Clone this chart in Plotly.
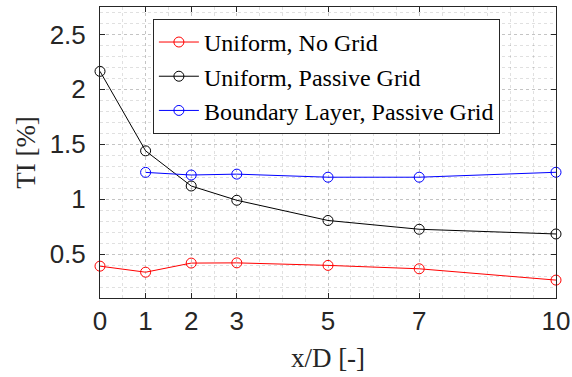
import plotly.graph_objects as go

x_all = [0, 1, 2, 3, 5, 7, 10]
x_bl = [1, 2, 3, 5, 7, 10]
ti_uniform_nogrid = [0.39, 0.335, 0.418, 0.42, 0.397, 0.366, 0.263]
ti_uniform_passive = [2.164, 1.44, 1.12, 0.99, 0.806, 0.726, 0.683]
ti_bl_passive = [1.244, 1.22, 1.228, 1.20, 1.20, 1.245]
x_ticks = [0, 1, 2, 3, 5, 7, 10]
y_ticks = [0.5, 1, 1.5, 2, 2.5]
y_tick_labels = ["0.5", "1", "1.5", "2", "2.5"]

SERIF = "Liberation Serif, Times New Roman, serif"
SANS = "Liberation Sans, Arial, sans-serif"

fig = go.Figure()
series = [
    ("Uniform, No Grid", x_all, ti_uniform_nogrid, "#ff0000"),
    ("Uniform, Passive Grid", x_all, ti_uniform_passive, "#000000"),
    ("Boundary Layer, Passive Grid", x_bl, ti_bl_passive, "#0000ff"),
]
for name, xs, ys, c in series:
    fig.add_trace(go.Scatter(
        x=xs, y=ys, name=name, mode="lines+markers",
        line=dict(color=c, width=1),
        marker=dict(symbol="circle-open", size=10, color=c, line=dict(width=1, color=c)),
        cliponaxis=False,
    ))

GRID = "rgba(0,0,0,0.12)"
axis_common = dict(
    showline=True, linecolor="#262626", linewidth=1, mirror="ticks",
    ticks="inside", ticklen=5, tickcolor="#262626",
    tickfont=dict(family=SANS, size=26, color="#262626"),
    showgrid=True, gridcolor=GRID, griddash="dot", gridwidth=1,
    zeroline=False, automargin=False,
)

fig.update_xaxes(
    range=[0, 10], tickvals=x_ticks, ticktext=[str(v) for v in x_ticks],
    minor=dict(dtick=0.5, tick0=0, showgrid=True, gridcolor=GRID, griddash="dot", gridwidth=1, ticks=""),
    title=dict(text="x/D [-]", font=dict(family=SERIF, size=27, color="#262626"), standoff=12),
    **axis_common,
)
fig.update_yaxes(
    range=[0.1, 2.75], tickvals=y_ticks, ticktext=y_tick_labels,
    minor=dict(dtick=0.1, tick0=0, showgrid=True, gridcolor=GRID, griddash="dot", gridwidth=1, ticks=""),
    title=dict(text="TI [%]", font=dict(family=SERIF, size=27, color="#262626"), standoff=6),
    ticklabelstandoff=8,
    **axis_common,
)

fig.update_layout(
    width=572, height=377,
    margin=dict(l=100, r=16, t=7, b=79),
    plot_bgcolor="white", paper_bgcolor="white",
    font=dict(family=SERIF),
    legend=dict(
        x=0.116, y=0.959, xanchor="left", yanchor="top",
        bgcolor="white", bordercolor="#262626", borderwidth=1,
        font=dict(family=SERIF, size=24, color="#000000"),
        tracegroupgap=0, itemwidth=40,
    ),
    showlegend=True,
)

fig.write_html("out.html")
